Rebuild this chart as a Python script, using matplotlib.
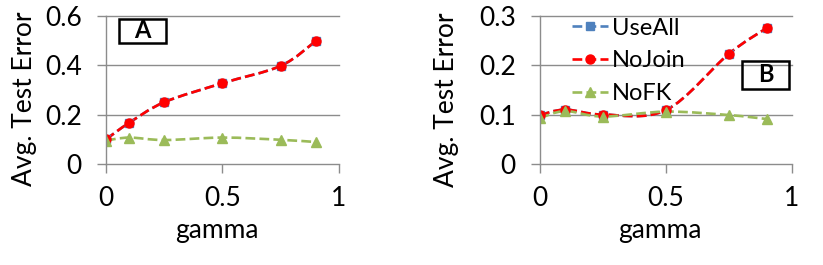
import matplotlib.pyplot as plt
import numpy as np
from matplotlib.path import Path
from matplotlib.patches import PathPatch, Rectangle
from matplotlib.lines import Line2D

plt.rcParams['font.family'] = ['Lato', 'DejaVu Sans']

gamma = [0, 0.1, 0.25, 0.5, 0.75, 0.9]

# panel A
a_useall = [0.100, 0.167, 0.250, 0.327, 0.397, 0.497]
a_nojoin = [0.100, 0.167, 0.250, 0.327, 0.397, 0.497]
a_nofk = [0.095, 0.107, 0.097, 0.107, 0.098, 0.089]

# panel B
b_useall = [0.099, 0.110, 0.100, 0.109, 0.223, 0.275]
b_nojoin = [0.099, 0.110, 0.100, 0.109, 0.223, 0.275]
b_nofk = [0.093, 0.107, 0.096, 0.106, 0.099, 0.091]

names = ['UseAll', 'NoJoin', 'NoFK']
colors = ['#4F81BD', '#FF0000', '#9BBB59']
markers = ['s', 'o', '^']
msizes = [6, 6.5, 6.5]
grid_col = '#8C8C8C'
FS = 19


def smooth_path(xs, ys):
    # Excel-style smoothed line: Catmull-Rom segments drawn as cubic Beziers
    p = np.column_stack([xs, ys])
    ext = np.vstack([p[0], p, p[-1]])
    verts = [p[0]]
    codes = [Path.MOVETO]
    for i in range(len(p) - 1):
        p0, p1, p2, p3 = ext[i], ext[i + 1], ext[i + 2], ext[i + 3]
        verts += [p1 + (p2 - p0) / 6, p2 - (p3 - p1) / 6, p2]
        codes += [Path.CURVE4] * 3
    return Path(verts, codes)


def draw_panel(ax, series, ymax, yticks, ylab_xy, xlab_xy):
    for ys, c, m, ms in zip(series, colors, markers, msizes):
        ax.add_patch(PathPatch(smooth_path(gamma, ys), fill=False, edgecolor=c,
                               lw=1.9, ls='--', capstyle='butt'))
        ax.plot(gamma, ys, ls='none', marker=m, ms=ms, color=c, mec=c)
    ax.set_xlim(0, 1)
    ax.set_ylim(0, ymax)
    ax.set_xticks([0, 0.5, 1])
    ax.set_xticklabels(['0', '0.5', '1'])
    ax.set_yticks(yticks)
    ax.set_yticklabels(['0' if v == 0 else f'{v:g}' for v in yticks])
    for v in yticks[1:]:
        ax.axhline(v, color=grid_col, lw=1, zorder=0, clip_on=False)
    for s in ['top', 'right']:
        ax.spines[s].set_visible(False)
    for s in ['left', 'bottom']:
        ax.spines[s].set_color(grid_col)
        ax.spines[s].set_linewidth(1)
    ax.tick_params(axis='x', direction='out', length=6.5, width=1, color=grid_col,
                   labelsize=FS, pad=9)
    ax.tick_params(axis='y', direction='out', length=6.5, width=1, color=grid_col,
                   labelsize=FS, pad=11)
    ax.set_xlabel('gamma', fontsize=FS, va='center')
    ax.set_ylabel('Avg. Test Error', fontsize=FS, va='center')
    ax.xaxis.set_label_coords(*xlab_xy)
    ax.yaxis.set_label_coords(*ylab_xy)


fig = plt.figure(figsize=(8.23, 2.65), dpi=100)
axA = fig.add_axes([0.1288, 0.381, 0.2831, 0.560])
axB = fig.add_axes([0.6561, 0.381, 0.3062, 0.560])

draw_panel(axA, [a_useall, a_nojoin, a_nofk], 0.6, [0, 0.2, 0.4, 0.6],
           (-0.348, 0.44), (0.476, -0.445))
draw_panel(axB, [b_useall, b_nojoin, b_nofk], 0.3, [0, 0.1, 0.2, 0.3],
           (-0.37, 0.43), (0.476, -0.445))


# panel tags
def tag(x, y, w, h, s):
    fig.patches.append(Rectangle((x / 823, 1 - (y + h) / 265), w / 823, h / 265,
                                 transform=fig.transFigure, fill=False,
                                 edgecolor='black', lw=1.8))
    fig.text((x + w / 2) / 823, 1 - (y + h / 2) / 265, s, ha='center',
             va='center', fontsize=17, fontweight='bold')

tag(119, 19, 47, 24, 'A')
tag(742, 61, 47, 28, 'B')

handles = [Line2D([], [], color=c, ls='--', lw=1.9, marker=m, ms=ms)
           for c, m, ms in zip(colors, markers, msizes)]
axB.legend(handles, names, loc='upper left', bbox_to_anchor=(0.09, 1.05),
           frameon=False, fontsize=17, handlelength=1.5, handletextpad=0.2,
           labelspacing=0.5, borderaxespad=0)

fig.savefig('out.png', dpi=100)
